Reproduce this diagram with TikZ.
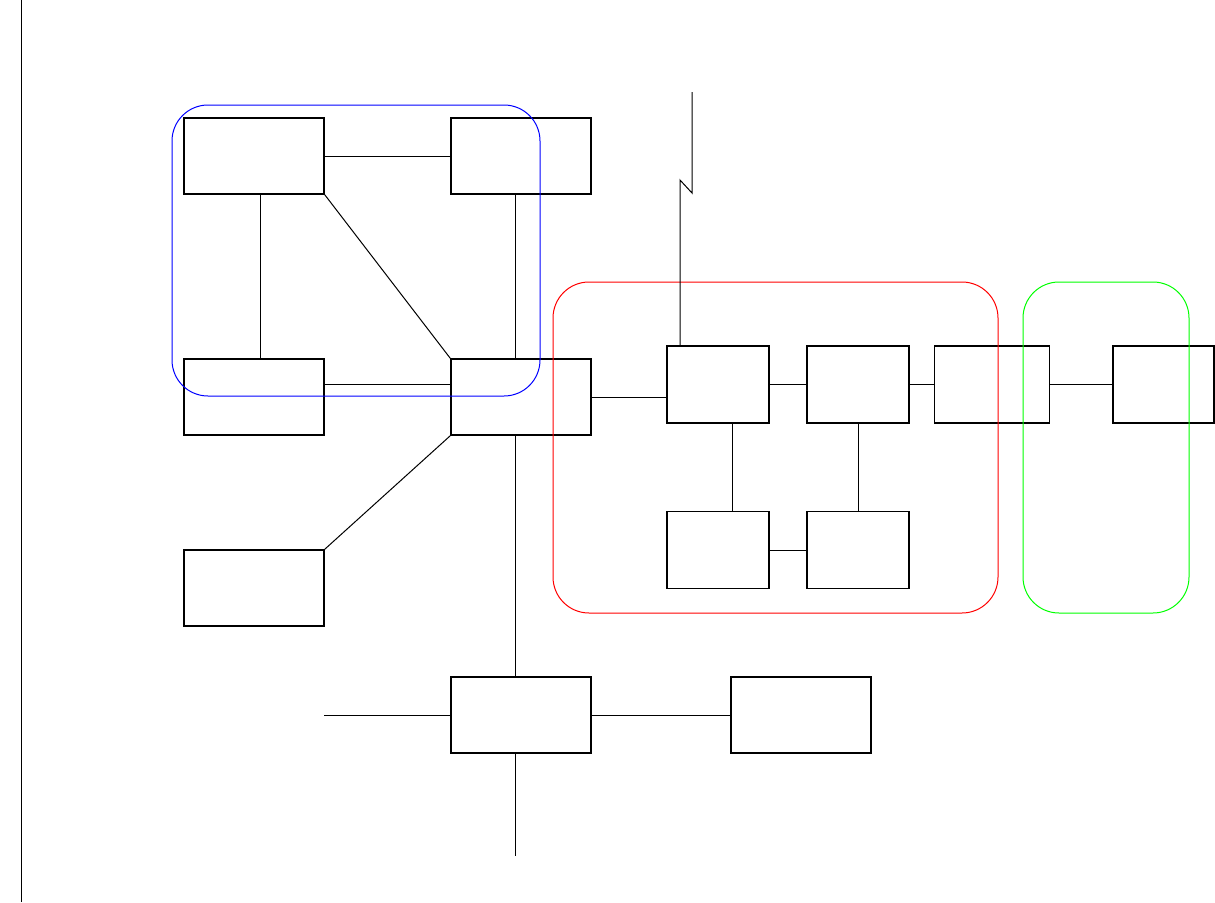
\documentclass[tikz,border=0pt]{standalone}
\usetikzlibrary{calc}

\tikzset{
  unit/.style={draw, line width=1.6pt, inner sep=0pt, minimum width=140, minimum height=76},
  cell/.style={unit, minimum width=102, minimum height=77},
  link/.style={line width=1pt},
  group/.style={line width=1pt, rounded corners=36pt}
}

\begin{document}
\begin{tikzpicture}[x=1pt, y=-1pt]
\useasboundingbox (0,0) rectangle (1215,902);

% Left margin rule
\draw [line width=1.3pt] (21.5,0)--(21.5,902);

% Boxes of the left network
\node [unit] (a) at (254,156) {};
\node [unit] (b) at (521,156) {};
\node [unit] (c) at (254,397) {};
\node [unit] (d) at (521,397) {};
\node [unit] (f) at (254,588) {};
\node [unit] (k) at (521,715) {};
\node [unit] (l) at (801,715) {};

% Boxes of the right chain
\node [cell] (e1) at (718,384.5) {};
\node [cell] (e2) at (858,384.5) {};
\node [cell, minimum width=115] (e3) at (992,384.5) {};
\node [cell, minimum width=101] (e4) at (1163.5,384.5) {};
\node [cell] (e5) at (718,550) {};
\node [cell] (e6) at (858,550) {};

% Groups
\draw [group, blue] (172,105) rectangle (540,396);
\draw [group, red] (553,282) rectangle (998,613);
\draw [group, green] (1023,282) rectangle (1189,613);

% Links inside the left network
\draw [link] (a.east)--(b.west);
\draw [link] ($(a.south)+(6,0)$)--($(c.north)+(6,0)$);
\draw [link] (a.south east)--(d.north west);
\draw [link] ($(b.south)+(-6,0)$)--($(d.north)+(-6,0)$);
\draw [link] ($(c.east)+(0,-13)$)--($(d.west)+(0,-13)$);
\draw [link] (d.south west)--(f.north east);
\draw [link] ($(d.south)+(-6,0)$)--($(k.north)+(-6,0)$);

% Open ends round the lower box
\coordinate (kin) at (324,715);
\coordinate (kout) at (515,856);
\draw [link] (kin)--(k.west);
\draw [link] ($(k.south)+(-6,0)$)--(kout);
\draw [link] (k.east)--(l.west);

% Links of the right chain
\draw [link] (d.east)--(d.east -| e1.west);
\draw [link] (e1.east)--(e2.west);
\draw [link] (e2.east)--(e3.west);
\draw [link] (e3.east)--(e4.west);
\draw [link] ($(e1.south)+(14,0)$)--($(e5.north)+(14,0)$);
\draw [link] (e2.south)--(e6.north);
\draw [link] (e5.east)--(e6.west);

% Lightning-like feed into the first cell
\coordinate (feed) at (692,92);
\draw [link] (feed)--(692,193)--(680,180)--($(e1.north)+(-38,0)$);

\end{tikzpicture}
\end{document}
